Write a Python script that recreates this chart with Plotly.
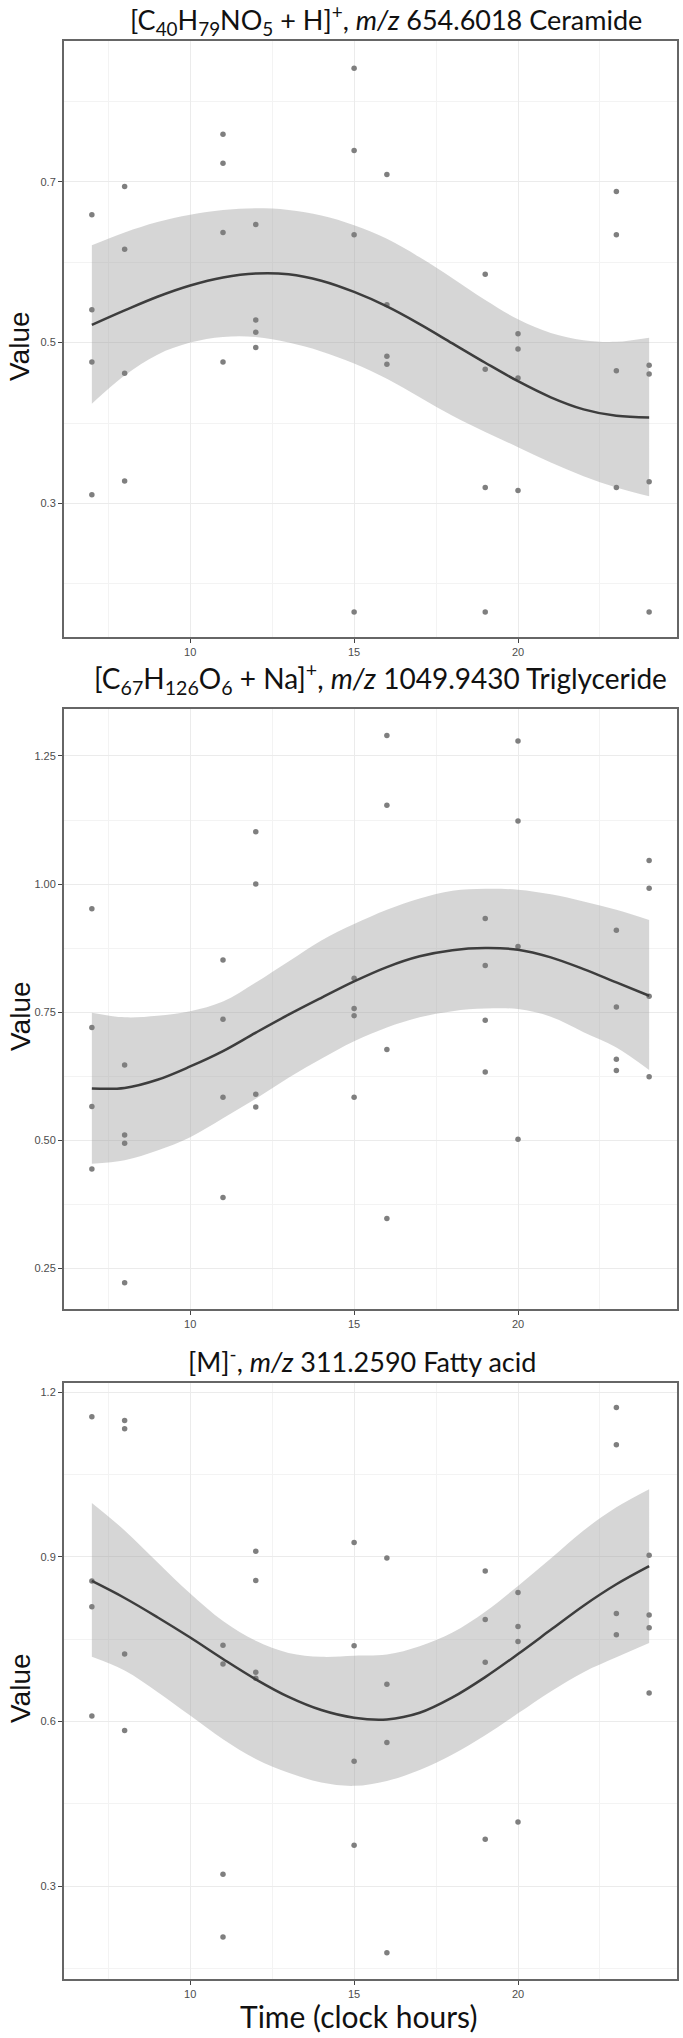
import plotly.graph_objects as go

# ---------------- data ----------------
sample_hours = [7]*4 + [8]*4 + [11]*4 + [12]*4 + [15]*4 + [16]*4 + [19]*4 + [20]*4 + [23]*4 + [24]*4

ceramide_values = [0.659, 0.541, 0.476, 0.311,
                   0.694, 0.616, 0.462, 0.328,
                   0.759, 0.723, 0.637, 0.476,
                   0.647, 0.528, 0.513, 0.494,
                   0.841, 0.739, 0.634, 0.165,
                   0.709, 0.547, 0.483, 0.473,
                   0.585, 0.467, 0.320, 0.165,
                   0.511, 0.492, 0.456, 0.316,
                   0.688, 0.634, 0.465, 0.320,
                   0.472, 0.461, 0.327, 0.165]

triglyceride_values = [0.952, 0.720, 0.566, 0.444,
                       0.647, 0.510, 0.494, 0.222,
                       0.852, 0.736, 0.584, 0.388,
                       1.102, 1.000, 0.590, 0.565,
                       0.816, 0.757, 0.743, 0.584,
                       1.290, 1.154, 0.677, 0.347,
                       0.933, 0.841, 0.734, 0.633,
                       1.279, 1.123, 0.878, 0.502,
                       0.910, 0.760, 0.658, 0.636,
                       1.046, 0.992, 0.781, 0.624]

fatty_acid_values = [1.155, 0.856, 0.809, 0.610,
                     1.148, 1.133, 0.723, 0.584,
                     0.739, 0.705, 0.322, 0.208,
                     0.910, 0.857, 0.690, 0.679,
                     0.926, 0.738, 0.528, 0.375,
                     0.898, 0.668, 0.562, 0.179,
                     0.874, 0.786, 0.708, 0.386,
                     0.835, 0.773, 0.746, 0.417,
                     1.172, 1.104, 0.797, 0.758,
                     0.903, 0.794, 0.771, 0.652]

fit_hours = [7, 8, 9, 10, 11, 12, 13, 14, 15, 16, 17, 18, 19, 20, 21, 22, 23, 24]

ceramide_fit = [0.522, 0.540, 0.557, 0.571, 0.581, 0.586, 0.585, 0.577, 0.563,
                0.545, 0.523, 0.499, 0.475, 0.452, 0.432, 0.417, 0.409, 0.407]
ceramide_upper = [0.621, 0.637, 0.650, 0.659, 0.665, 0.667, 0.665, 0.658, 0.646,
                  0.629, 0.606, 0.580, 0.553, 0.529, 0.512, 0.503, 0.501, 0.506]
ceramide_lower = [0.424, 0.459, 0.485, 0.500, 0.507, 0.507, 0.500, 0.489, 0.474,
                  0.455, 0.432, 0.409, 0.389, 0.370, 0.351, 0.334, 0.320, 0.309]

triglyceride_fit = [0.601, 0.602, 0.618, 0.644, 0.674, 0.710, 0.745, 0.778, 0.810,
                    0.838, 0.859, 0.871, 0.875, 0.872, 0.857, 0.834, 0.808, 0.782]
triglyceride_upper = [0.749, 0.740, 0.743, 0.752, 0.771, 0.808, 0.849, 0.890, 0.922,
                      0.950, 0.972, 0.987, 0.991, 0.989, 0.980, 0.966, 0.950, 0.930]
triglyceride_lower = [0.454, 0.461, 0.480, 0.506, 0.543, 0.581, 0.622, 0.659, 0.693,
                      0.720, 0.740, 0.752, 0.757, 0.756, 0.741, 0.711, 0.681, 0.637]

fatty_acid_fit = [0.856, 0.825, 0.790, 0.753, 0.714, 0.677, 0.645, 0.621, 0.607,
                  0.604, 0.616, 0.644, 0.681, 0.723, 0.767, 0.811, 0.850, 0.883]
fatty_acid_upper = [0.998, 0.948, 0.890, 0.833, 0.783, 0.747, 0.725, 0.718, 0.720,
                    0.722, 0.737, 0.762, 0.800, 0.847, 0.897, 0.948, 0.990, 1.023]
fatty_acid_lower = [0.718, 0.693, 0.654, 0.611, 0.568, 0.532, 0.507, 0.489, 0.483,
                    0.492, 0.512, 0.540, 0.575, 0.615, 0.655, 0.690, 0.717, 0.743]

panel_titles = [
    "[C<sub>40</sub>H<sub>79</sub>NO<sub>5</sub> + H]<sup>+</sup>, <i>m/z</i> 654.6018 Ceramide",
    "[C<sub>67</sub>H<sub>126</sub>O<sub>6</sub> + Na]<sup>+</sup>, <i>m/z</i> 1049.9430 Triglyceride",
    "[M]<sup>-</sup>, <i>m/z</i> 311.2590 Fatty acid",
]

x_ticks = [10, 15, 20]
x_minor = [7.5, 12.5, 17.5, 22.5]
y_ticks = [[0.3, 0.5, 0.7], [0.25, 0.50, 0.75, 1.00, 1.25], [0.3, 0.6, 0.9, 1.2]]
y_ticktext = [["0.3", "0.5", "0.7"], ["0.25", "0.50", "0.75", "1.00", "1.25"], ["0.3", "0.6", "0.9", "1.2"]]
y_minor = [[0.2, 0.4, 0.6, 0.8], [0.375, 0.625, 0.875, 1.125], [0.15, 0.45, 0.75, 1.05]]

# ---------------- layout geometry (pixels) ----------------
W, H = 683, 2038
plot_left, plot_right = 64, 677
panel_px = [(41, 637), (709, 1309), (1383, 1979)]
y_ranges = [[0.134, 0.875], [0.1706, 1.3417], [0.1314, 1.2164]]
title_px = [(386, 20), (380, 678), (362, 1360)]
title_sizes = [27, 28, 27]

series = [
    (ceramide_values, ceramide_fit, ceramide_upper, ceramide_lower),
    (triglyceride_values, triglyceride_fit, triglyceride_upper, triglyceride_lower),
    (fatty_acid_values, fatty_acid_fit, fatty_acid_upper, fatty_acid_lower),
]

fig = go.Figure()
annotations = []
tick_font = dict(family="Liberation Sans, Arial, sans-serif", size=11, color="#4d4d4d")

for i, (vals, fit, up, lo) in enumerate(series):
    k = i + 1
    xa = "x" if k == 1 else f"x{k}"
    ya = "y" if k == 1 else f"y{k}"
    fig.add_trace(go.Scatter(x=fit_hours, y=up, mode="lines", line=dict(width=0, shape="spline"),
                             hoverinfo="skip", showlegend=False, xaxis=xa, yaxis=ya))
    fig.add_trace(go.Scatter(x=fit_hours, y=lo, mode="lines", line=dict(width=0, shape="spline"),
                             fill="tonexty", fillcolor="rgba(153,153,153,0.4)",
                             hoverinfo="skip", showlegend=False, xaxis=xa, yaxis=ya))
    fig.add_trace(go.Scatter(x=sample_hours, y=vals, mode="markers",
                             marker=dict(size=5.5, color="#7f7f7f"),
                             showlegend=False, xaxis=xa, yaxis=ya))
    fig.add_trace(go.Scatter(x=fit_hours, y=fit, mode="lines",
                             line=dict(width=2.5, color="#3d3d3d", shape="spline"),
                             showlegend=False, xaxis=xa, yaxis=ya))

    top, bot = panel_px[i]
    ydom = [1 - bot / H, 1 - top / H]
    xkey = "xaxis" if k == 1 else f"xaxis{k}"
    ykey = "yaxis" if k == 1 else f"yaxis{k}"
    fig.update_layout(**{
        xkey: dict(domain=[plot_left / W, plot_right / W], range=[6.15, 24.85], anchor=ya,
                   tickvals=x_ticks, ticktext=[str(v) for v in x_ticks],
                   ticks="outside", ticklen=4, tickwidth=1, tickcolor="#444",
                   tickfont=tick_font, showgrid=True, gridcolor="#ebebeb", gridwidth=1,
                   minor=dict(tickvals=x_minor, showgrid=True, gridcolor="#f3f3f3", gridwidth=1, ticks=""),
                   showline=True, mirror=True, linecolor="#666666", linewidth=2, zeroline=False),
        ykey: dict(domain=ydom, range=y_ranges[i], anchor=xa,
                   tickvals=y_ticks[i], ticktext=y_ticktext[i],
                   ticks="outside", ticklen=4, tickwidth=1, tickcolor="#444",
                   tickfont=tick_font, showgrid=True, gridcolor="#ebebeb", gridwidth=1,
                   minor=dict(tickvals=y_minor[i], showgrid=True, gridcolor="#f3f3f3", gridwidth=1, ticks=""),
                   showline=True, mirror=True, linecolor="#666666", linewidth=2, zeroline=False),
    })

    tx, ty = title_px[i]
    annotations.append(dict(text=panel_titles[i], x=tx / W, y=1 - ty / H, xref="paper", yref="paper",
                            xanchor="center", yanchor="middle", showarrow=False,
                            font=dict(family="Lato, sans-serif", size=title_sizes[i], color="#111111")))
    annotations.append(dict(text="Value", x=20 / W, y=1 - ((top + bot) / 2 + 7) / H,
                            xref="paper", yref="paper", xanchor="center", yanchor="middle",
                            textangle=-90, showarrow=False,
                            font=dict(family="Liberation Sans, Arial, sans-serif", size=28, color="#111111")))

annotations.append(dict(text="Time (clock hours)", x=358 / W, y=1 - 2016 / H, xref="paper", yref="paper",
                        xanchor="center", yanchor="middle", showarrow=False, borderpad=0,
                        font=dict(family="Lato, sans-serif", size=30, color="#111111")))

fig.update_layout(width=W, height=H, margin=dict(l=0, r=0, t=0, b=0),
                  paper_bgcolor="white", plot_bgcolor="white", annotations=annotations,
                  showlegend=False)

fig.write_html("out.html")
